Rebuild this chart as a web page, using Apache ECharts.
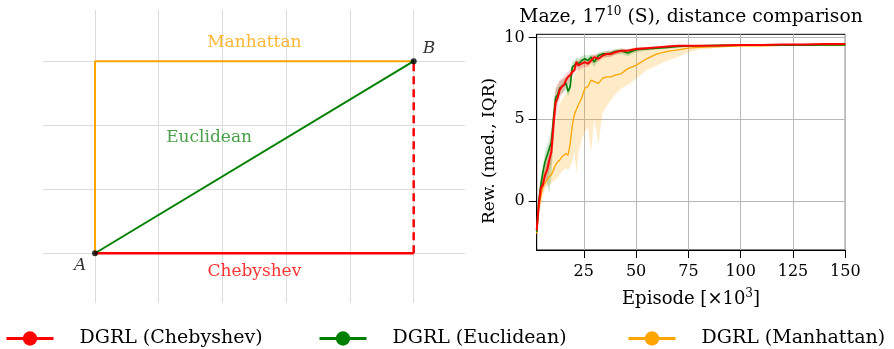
<!DOCTYPE html>
<html>
<head>
<meta charset="utf-8">
<script src="https://cdn.jsdelivr.net/npm/echarts@6/dist/echarts.min.js"></script>
<style>
  html, body { margin: 0; padding: 0; background: #fff; }
  #main { width: 894px; height: 349px; }
</style>
</head>
<body>
<div id="main"></div>
<script>
// left diagram
const gridX = [0, 1, 2, 3, 4, 5];
const gridY = [0, 1, 2, 3];
const pointA = [0, 0];
const pointB = [5, 3];

// right chart: episode [x10^3] and reward median / IQR
const episodes = [2.5, 3.5, 4.5, 5.5, 6.5, 7.5, 8.5, 9.5, 10.5, 11.5, 12.5, 13.5, 14.5, 15.5, 16.5, 17.5, 18.5, 19.5, 20.5, 21.5, 22.5, 24, 25.5, 27, 28.5, 30, 32, 34, 36, 38, 40, 43, 46, 50, 55, 60, 65, 70, 75, 80, 90, 100, 110, 120, 130, 140, 150];

const chebMed = [-1.8, -0.2, 0.8, 1.0, 1.6, 1.9, 2.5, 3.0, 4.6, 6.0, 6.3, 6.8, 7.0, 7.1, 7.4, 7.6, 7.7, 7.9, 8.0, 8.5, 8.3, 8.4, 8.5, 8.4, 8.6, 8.8, 8.7, 8.9, 9.0, 9.0, 9.1, 9.2, 9.2, 9.3, 9.35, 9.4, 9.45, 9.5, 9.5, 9.5, 9.52, 9.55, 9.55, 9.57, 9.58, 9.6, 9.6];
const chebLow = [-2.2, -0.8, 0.3, 0.6, 1.0, 1.4, 1.8, 2.3, 3.5, 5.0, 5.7, 6.3, 6.5, 6.7, 7.0, 7.2, 7.4, 7.6, 7.8, 8.0, 8.0, 8.1, 8.2, 8.2, 8.4, 8.5, 8.5, 8.7, 8.8, 8.8, 8.95, 9.05, 9.1, 9.2, 9.28, 9.33, 9.4, 9.44, 9.45, 9.47, 9.5, 9.52, 9.53, 9.55, 9.56, 9.57, 9.58];
const chebHigh = [-1.4, 0.4, 1.3, 1.6, 2.2, 2.6, 3.3, 4.0, 5.8, 6.9, 7.2, 7.4, 7.5, 7.6, 7.8, 7.9, 8.0, 8.2, 8.3, 8.7, 8.6, 8.7, 8.75, 8.7, 8.85, 9.0, 8.95, 9.1, 9.15, 9.2, 9.25, 9.3, 9.32, 9.4, 9.43, 9.47, 9.5, 9.53, 9.54, 9.55, 9.57, 9.6, 9.6, 9.62, 9.62, 9.63, 9.63];

const euclMed = [-1.9, 0.0, 1.0, 1.8, 2.4, 2.8, 3.2, 3.6, 5.0, 6.3, 6.5, 6.9, 7.0, 7.1, 7.2, 6.7, 7.0, 8.2, 8.3, 8.5, 8.4, 8.6, 8.7, 8.6, 8.8, 8.5, 8.9, 9.0, 9.0, 9.05, 9.15, 9.2, 9.05, 9.25, 9.3, 9.35, 9.4, 9.45, 9.48, 9.5, 9.52, 9.53, 9.53, 9.54, 9.54, 9.55, 9.55];
const euclLow = [-2.3, -0.7, 0.3, 0.9, 1.5, 1.0, 0.5, 1.5, 3.8, 5.6, 6.1, 6.5, 6.6, 6.7, 6.8, 6.4, 6.7, 7.9, 8.0, 8.2, 8.1, 8.3, 8.4, 8.3, 8.5, 8.2, 8.65, 8.8, 8.8, 8.85, 8.95, 9.0, 8.85, 9.1, 9.2, 9.27, 9.32, 9.38, 9.42, 9.45, 9.48, 9.5, 9.5, 9.5, 9.51, 9.52, 9.52];
const euclHigh = [-1.5, 0.5, 1.5, 2.3, 3.0, 3.4, 3.8, 4.4, 5.7, 6.8, 7.0, 7.3, 7.4, 7.5, 7.6, 7.5, 7.8, 8.5, 8.6, 8.8, 8.7, 8.85, 8.95, 8.9, 9.0, 8.9, 9.1, 9.15, 9.2, 9.2, 9.3, 9.35, 9.25, 9.38, 9.42, 9.45, 9.48, 9.52, 9.54, 9.55, 9.56, 9.57, 9.57, 9.58, 9.58, 9.58, 9.58];

const manhMed = [-2.0, -0.5, 0.3, 0.9, 1.1, 1.3, 1.5, 1.6, 1.9, 2.2, 2.4, 2.5, 2.7, 2.8, 2.9, 2.8, 3.5, 4.6, 5.3, 5.6, 5.9, 6.3, 6.9, 7.0, 7.4, 7.3, 7.2, 7.5, 7.6, 7.6, 7.7, 7.8, 8.1, 8.3, 8.7, 9.0, 9.15, 9.25, 9.35, 9.4, 9.45, 9.5, 9.5, 9.52, 9.52, 9.53, 9.53];
const manhLow = [-2.4, -1.0, -0.3, 0.4, 0.7, 0.9, 1.0, 1.1, 1.2, 1.3, 1.4, 1.6, 1.8, 1.9, 2.0, 1.9, 2.1, 2.4, 3.0, 1.7, 2.9, 3.8, 4.2, 4.5, 3.0, 5.0, 3.5, 5.4, 5.8, 6.2, 6.5, 6.9, 7.1, 7.5, 8.0, 8.3, 8.6, 8.8, 9.1, 9.25, 9.38, 9.45, 9.47, 9.49, 9.5, 9.5, 9.5];
const manhHigh = [-1.5, 0.3, 1.0, 1.6, 2.0, 2.4, 2.8, 3.3, 4.0, 4.8, 5.5, 5.9, 6.2, 6.4, 6.6, 6.8, 7.1, 7.4, 7.7, 7.9, 8.1, 8.3, 8.4, 8.5, 8.6, 8.7, 8.8, 8.9, 9.0, 9.0, 9.05, 9.1, 9.15, 9.2, 9.25, 9.3, 9.38, 9.43, 9.48, 9.5, 9.52, 9.55, 9.55, 9.56, 9.56, 9.56, 9.56];

const xTicks = [25, 50, 75, 100, 125, 150];
const yTicks = [0, 5, 10];

const FONT = 'DejaVu Serif';
const RED = '#ff0000', GREEN = '#008000', ORANGE = '#ffa500';

const chart = echarts.init(document.getElementById('main'));

const pts = (ys) => episodes.map((e, i) => [e, ys[i]]);

// IQR band drawn as one polygon through the axis scales
function band(low, high, color) {
    return {
        type: 'custom', xAxisIndex: 1, yAxisIndex: 1, silent: true, z: 2,
        data: episodes.map((e, i) => [e, low[i], high[i]]),
        encode: {x: 0, y: [1, 2]},
        renderItem(params, api) {
            if (params.dataIndex !== 0) return;
            const upper = episodes.map((e, i) => api.coord([e, high[i]]));
            const lower = episodes.map((e, i) => api.coord([e, low[i]])).reverse();
            return {
                type: 'polygon',
                shape: {points: upper.concat(lower)},
                style: {fill: color}
            };
        }
    };
}

function median(name, ys, color, width, z) {
    return {
        name, type: 'line', xAxisIndex: 1, yAxisIndex: 1, data: pts(ys),
        symbol: 'circle', showSymbol: false, symbolSize: 14,
        itemStyle: {color}, lineStyle: {color, width}, z
    };
}

const corner = [pointA[0], pointB[1]];
const cornerC = [pointB[0], pointA[1]];

const labels = [
    {value: [2.5, 3.29], text: 'Manhattan', color: ORANGE, italic: false},
    {value: [1.79, 1.80], text: 'Euclidean', color: '#1b871b', italic: false},
    {value: [2.5, -0.28], text: 'Chebyshev', color: RED, italic: false},
    {value: [-0.235, -0.2], text: 'A', color: '#000', italic: true},
    {value: [5.24, 3.19], text: 'B', color: '#000', italic: true}
];

const axisFont = {fontFamily: FONT, fontSize: 16, color: '#000'};

chart.setOption({
    animation: false,
    grid: [
        {left: 43, top: 10, width: 422, height: 293},
        {left: 536.7, top: 34.3, right: 48.7, bottom: 99, show: true, borderColor: '#000', borderWidth: 1}
    ],
    xAxis: [
        {gridIndex: 0, type: 'value', min: -0.816, max: 5.805, show: false},
        {
            gridIndex: 1, type: 'value', min: 2.5, max: 150,
            axisLine: {onZero: false, lineStyle: {color: '#000', width: 1}},
            axisTick: {customValues: xTicks, length: 8, lineStyle: {color: '#000'}},
            axisLabel: Object.assign({customValues: xTicks, margin: 14}, axisFont),
            splitLine: {show: true, lineStyle: {color: '#b8b8b8', width: 1}}
        }
    ],
    yAxis: [
        {gridIndex: 0, type: 'value', min: -0.777, max: 3.80, show: false},
        {
            gridIndex: 1, type: 'value', min: -3, max: 10.2,
            axisLine: {show: true, onZero: false, lineStyle: {color: '#000', width: 1}},
            axisTick: {show: true, customValues: yTicks, length: 8, lineStyle: {color: '#000'}},
            axisLabel: Object.assign({customValues: yTicks, margin: 12}, axisFont),
            splitLine: {show: true, lineStyle: {color: '#b8b8b8', width: 1}}
        }
    ],
    legend: [
        {left: 0, data: ['DGRL (Chebyshev)']},
        {left: 313, data: ['DGRL (Euclidean)']},
        {left: 622, data: ['DGRL (Manhattan)']}
    ].map(l => Object.assign({
        top: 324, itemWidth: 47, itemHeight: 18,
        textStyle: {fontFamily: FONT, fontSize: 19, color: '#000', padding: [0, 0, 0, 21]},
        lineStyle: {width: 3}
    }, l)),
    graphic: [
        {
            type: 'text', x: 691, y: 17,
            style: {
                text: '{a|Maze, 17}{s|10}{a| (S), distance comparison}',
                align: 'center', verticalAlign: 'middle',
                rich: {
                    a: {fontFamily: FONT, fontSize: 18.7, fill: '#000', lineHeight: 22},
                    s: {fontFamily: FONT, fontSize: 12, fill: '#000', verticalAlign: 'top', lineHeight: 12}
                }
            }
        },
        {
            type: 'text', x: 490, y: 151, rotation: Math.PI / 2,
            style: {text: 'Rew. (med., IQR)', align: 'center', verticalAlign: 'middle', fontFamily: FONT, fontSize: 17, fill: '#000'}
        },
        {
            type: 'text', x: 691, y: 299,
            style: {
                text: '{a|Episode [×10}{s|3}{a|]}',
                align: 'center', verticalAlign: 'middle',
                rich: {
                    a: {fontFamily: FONT, fontSize: 18, fill: '#000', lineHeight: 22},
                    s: {fontFamily: FONT, fontSize: 12, fill: '#000', verticalAlign: 'top', lineHeight: 12}
                }
            }
        }
    ],
    series: [
        {
            type: 'line', xAxisIndex: 0, yAxisIndex: 0, data: [], silent: true, z: 0,
            markLine: {
                silent: true, symbol: 'none', z: 0, label: {show: false},
                lineStyle: {color: '#dcdcdc', width: 1, type: 'solid'},
                data: gridX.map(v => ({xAxis: v})).concat(gridY.map(v => ({yAxis: v})))
            }
        },
        {
            type: 'line', xAxisIndex: 0, yAxisIndex: 0, data: [pointA, corner, pointB],
            symbol: 'none', lineStyle: {color: ORANGE, width: 2}, z: 3
        },
        {
            type: 'line', xAxisIndex: 0, yAxisIndex: 0, data: [pointA, pointB],
            symbol: 'none', lineStyle: {color: GREEN, width: 2}, z: 3
        },
        {
            type: 'line', xAxisIndex: 0, yAxisIndex: 0, data: [pointA, cornerC],
            symbol: 'none', lineStyle: {color: RED, width: 2.5}, z: 3
        },
        {
            type: 'line', xAxisIndex: 0, yAxisIndex: 0, data: [cornerC, pointB],
            symbol: 'none', lineStyle: {color: RED, width: 2.5, type: [8, 5]}, z: 3
        },
        {
            type: 'scatter', xAxisIndex: 0, yAxisIndex: 0, data: [pointA, pointB],
            symbolSize: 6, itemStyle: {color: '#000'}, z: 4
        },
        {
            type: 'scatter', xAxisIndex: 0, yAxisIndex: 0, symbolSize: 0, z: 4,
            data: labels.map(l => ({
                value: l.value,
                label: {
                    show: true, position: 'inside', formatter: l.text, color: l.color,
                    fontFamily: FONT, fontSize: 17, fontStyle: l.italic ? 'italic' : 'normal'
                }
            }))
        },
        band(manhLow, manhHigh, 'rgba(255,165,0,0.22)'),
        band(euclLow, euclHigh, 'rgba(0,128,0,0.2)'),
        band(chebLow, chebHigh, 'rgba(255,0,0,0.18)'),
        median('DGRL (Manhattan)', manhMed, ORANGE, 1.3, 5),
        median('DGRL (Euclidean)', euclMed, GREEN, 1.6, 6),
        median('DGRL (Chebyshev)', chebMed, RED, 2, 7)
    ]
});
</script>
</body>
</html>
